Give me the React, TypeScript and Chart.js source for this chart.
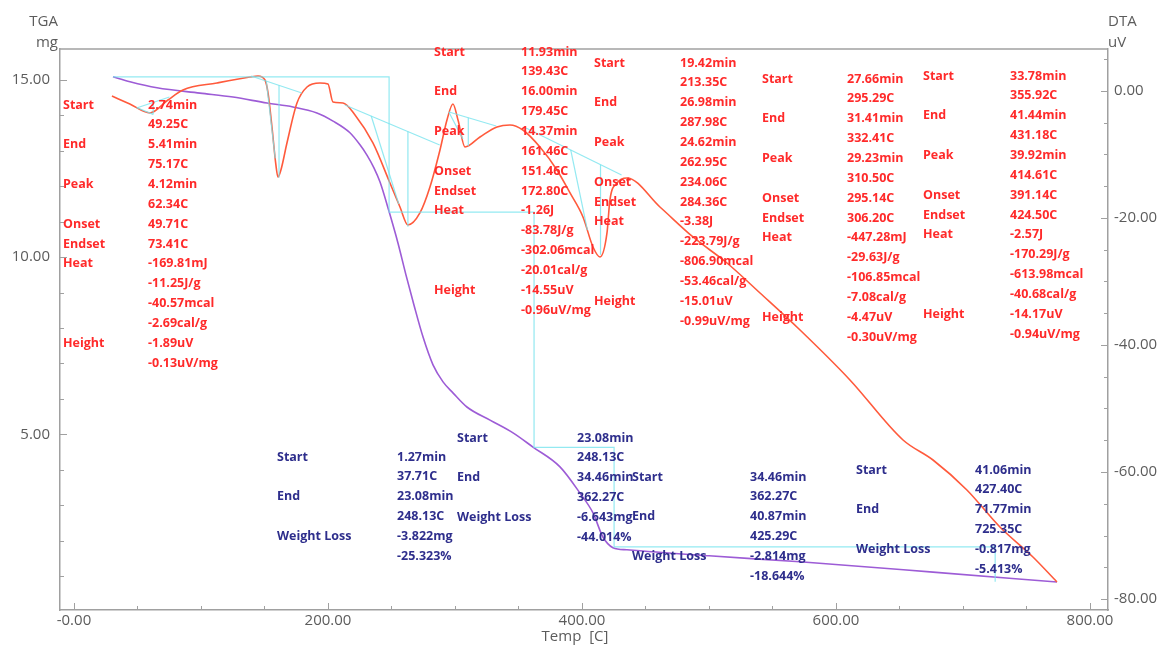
import React, { useEffect, useRef } from "react";
import { Chart, registerables } from "chart.js";

Chart.register(...registerables);

// ---------- data ----------
const TGA_TEMP = [30.7, 44.1, 65.4, 99.2, 125.2, 152, 172.4, 191.3, 204, 217.3, 225.2, 230.7, 236.2, 241, 248, 255.1, 261.4, 267.7, 274.8, 282.7, 290.6, 298.4, 309.4, 327.6, 345.7, 361.4, 382.7, 398.4, 408.7, 416.5, 424.4, 435.4, 500, 571.7, 676.4, 774];
const TGA_MG = [15.09, 14.95, 14.78, 14.63, 14.52, 14.35, 14.24, 14.07, 13.84, 13.51, 13.17, 12.88, 12.52, 12.12, 11.3, 10.4, 9.5, 8.65, 7.75, 6.96, 6.48, 6.17, 5.77, 5.4, 5.04, 4.64, 4.08, 3.34, 2.78, 2.1, 1.8, 1.74, 1.57, 1.4, 1.11, 0.83];

const DTA_TEMP = [29.9, 44, 59.8, 74, 85.8, 112.6, 138.6, 144.9, 150.4, 152.8, 155.9, 159, 160.6, 163, 167.7, 175.6, 183.5, 193.7, 200, 203.9, 211.8, 221.3, 235.4, 248.8, 256.7, 263, 272.4, 280.3, 288.2, 293.7, 298.4, 302.4, 307.9, 319.7, 333.1, 343.3, 353.5, 366.9, 380.3, 390.6, 400.8, 408.7, 414.2, 419.7, 422, 427.6, 435.4, 461.4, 487.4, 514.2, 540.2, 571.7, 611, 652.8, 676.4, 703.1, 729.1, 755.1, 774];
const DTA_UV = [-0.79, -2.05, -3.46, -1.42, 0.16, 1.26, 2.2, 2.36, 1.73, -0.31, -5.67, -11.65, -13.54, -12.4, -8.19, -1.89, 0.63, 1.26, 1.1, -1.73, -1.89, -3.78, -8.19, -14.49, -18.27, -21.1, -19.21, -15.12, -9.29, -4.57, -2.05, -4.57, -8.82, -7.24, -5.67, -5.35, -6.14, -8.82, -12.44, -16.06, -19.84, -24.57, -26.14, -22.36, -17.17, -14.49, -13.7, -18.27, -22.99, -27.09, -31.81, -37.64, -45.5, -54.96, -58.11, -62.83, -68.66, -73.39, -77.32];

// TGA step analysis (stair construction)
const TGA_STEP_T = [30.7, 248.13, 362.27, 425.29, 725.35];
const TGA_STEP_MG = [15.09, 11.27, 4.63, 1.82, 0.84];

// DTA peak analysis
const PEAK_START_T = [49.25, 139.43, 213.35, 295.29, 355.92];
const PEAK_END_T = [75.17, 179.45, 287.98, 332.41, 431.18];
const PEAK_TOP_T = [62.34, 161.46, 262.95, 310.5, 414.61];
const PEAK_ONSET_T = [49.71, 151.46, 234.06, 295.14, 391.14];
const PEAK_HEIGHT_UV = [-1.89, -14.55, -15.01, -4.47, -14.17];
const BASE_START_UV = [-2.68, 2.36, -2.2, -3.31, -5.83];
const BASE_END_UV = [-0.94, -0.31, -8.5, -5.51, -13.23];

// axes ticks
const X_TICKS = [0, 200, 400, 600, 800];
const X_TICK_LABELS = ["-0.00", "200.00", "400.00", "600.00", "800.00"];
const TGA_TICKS = [5, 10, 15];
const TGA_TICK_LABELS = ["5.00", "10.00", "15.00"];
const DTA_TICKS = [0, -20, -40, -60, -80];
const DTA_TICK_LABELS = ["0.00", "-20.00", "-40.00", "-60.00", "-80.00"];

// annotation texts
const DTA_NOTES: [string, string[]][][] = [
  [["Start", ["2.74min", "49.25C"]], ["End", ["5.41min", "75.17C"]], ["Peak", ["4.12min", "62.34C"]], ["Onset", ["49.71C"]], ["Endset", ["73.41C"]], ["Heat", ["-169.81mJ", "-11.25J/g", "-40.57mcal", "-2.69cal/g"]], ["Height", ["-1.89uV", "-0.13uV/mg"]]],
  [["Start", ["11.93min", "139.43C"]], ["End", ["16.00min", "179.45C"]], ["Peak", ["14.37min", "161.46C"]], ["Onset", ["151.46C"]], ["Endset", ["172.80C"]], ["Heat", ["-1.26J", "-83.78J/g", "-302.06mcal", "-20.01cal/g"]], ["Height", ["-14.55uV", "-0.96uV/mg"]]],
  [["Start", ["19.42min", "213.35C"]], ["End", ["26.98min", "287.98C"]], ["Peak", ["24.62min", "262.95C"]], ["Onset", ["234.06C"]], ["Endset", ["284.36C"]], ["Heat", ["-3.38J", "-223.79J/g", "-806.90mcal", "-53.46cal/g"]], ["Height", ["-15.01uV", "-0.99uV/mg"]]],
  [["Start", ["27.66min", "295.29C"]], ["End", ["31.41min", "332.41C"]], ["Peak", ["29.23min", "310.50C"]], ["Onset", ["295.14C"]], ["Endset", ["306.20C"]], ["Heat", ["-447.28mJ", "-29.63J/g", "-106.85mcal", "-7.08cal/g"]], ["Height", ["-4.47uV", "-0.30uV/mg"]]],
  [["Start", ["33.78min", "355.92C"]], ["End", ["41.44min", "431.18C"]], ["Peak", ["39.92min", "414.61C"]], ["Onset", ["391.14C"]], ["Endset", ["424.50C"]], ["Heat", ["-2.57J", "-170.29J/g", "-613.98mcal", "-40.68cal/g"]], ["Height", ["-14.17uV", "-0.94uV/mg"]]],
];
const TGA_NOTES: [string, string[]][][] = [
  [["Start", ["1.27min", "37.71C"]], ["End", ["23.08min", "248.13C"]], ["Weight Loss", ["-3.822mg", "-25.323%"]]],
  [["Start", ["23.08min", "248.13C"]], ["End", ["34.46min", "362.27C"]], ["Weight Loss", ["-6.643mg", "-44.014%"]]],
  [["Start", ["34.46min", "362.27C"]], ["End", ["40.87min", "425.29C"]], ["Weight Loss", ["-2.814mg", "-18.644%"]]],
  [["Start", ["41.06min", "427.40C"]], ["End", ["71.77min", "725.35C"]], ["Weight Loss", ["-0.817mg", "-5.413%"]]],
];

// ---------- layout / style ----------
const W = 1167;
const H = 646;
const DTA_NOTE_POS = [[63, 148, 105], [434, 521, 52], [594, 680, 63], [762, 847, 79], [923, 1010, 76]];
const TGA_NOTE_POS = [[277, 397, 457], [457, 577, 438], [632, 750, 477], [856, 975, 470]];
const ROW = 19.85;
const FONT = '"Open Sans", "Noto Sans", sans-serif';
const AXIS_COLOR = "#a0a0a0";
const LABEL_COLOR = "#5c5c5c";
const DTA_COLOR = "#ff5a3c";
const TGA_COLOR = "#9d5cd6";
const CYAN = "rgba(120,228,238,0.8)";
const RED_TEXT = "#ff2a2a";
const NAVY_TEXT = "#2e2e8c";

const baseAt = (i: number, t: number) =>
  BASE_START_UV[i] + ((t - PEAK_START_T[i]) / (PEAK_END_T[i] - PEAK_START_T[i])) * (BASE_END_UV[i] - BASE_START_UV[i]);

const dtaAt = (t: number) => {
  for (let k = 1; k < DTA_TEMP.length; k++) {
    if (t <= DTA_TEMP[k]) {
      const f = (t - DTA_TEMP[k - 1]) / (DTA_TEMP[k] - DTA_TEMP[k - 1]);
      return DTA_UV[k - 1] + f * (DTA_UV[k] - DTA_UV[k - 1]);
    }
  }
  return DTA_UV[DTA_UV.length - 1];
};

const sidePoint = (i: number, from: number) => {
  const to = PEAK_TOP_T[i];
  const h = PEAK_HEIGHT_UV[i];
  for (let s = 0; s <= 300; s++) {
    const t = from + ((to - from) * s) / 300;
    if (dtaAt(t) - baseAt(i, t) <= 0.8 * h) return { x: t, y: dtaAt(t) };
  }
  return { x: to, y: baseAt(i, to) + h };
};

const decor = {
  id: "decor",
  afterDraw(chart: any) {
    const { ctx, chartArea: a, scales } = chart;
    const x = scales.x, yL = scales.yL, yR = scales.yR;
    ctx.save();
    ctx.strokeStyle = AXIS_COLOR;
    ctx.lineWidth = 1.5;
    const seg = (x1: number, y1: number, x2: number, y2: number) => {
      ctx.beginPath();
      ctx.moveTo(x1, y1);
      ctx.lineTo(x2, y2);
      ctx.stroke();
    };
    seg(a.left, a.top, a.right, a.top);
    ctx.lineWidth = 1;
    for (let v = 1; v <= 15; v++) {
      const y = Math.round(yL.getPixelForValue(v)) + 0.5;
      if (y < a.top || y > a.bottom) continue;
      seg(a.left, y, a.left + (v % 5 === 0 ? 7 : 4), y);
    }
    for (let v = -80; v <= 5; v += 5) {
      const y = Math.round(yR.getPixelForValue(v)) + 0.5;
      if (y < a.top || y > a.bottom) continue;
      seg(a.right, y, a.right - (v % 20 === 0 ? 7 : 4), y);
    }
    for (let v = 0; v <= 800; v += 50) {
      const xx = Math.round(x.getPixelForValue(v)) + 0.5;
      seg(xx, a.bottom, xx, a.bottom - (v % 200 === 0 ? 7 : 4));
    }
    // axis titles
    ctx.fillStyle = LABEL_COLOR;
    ctx.font = `15px ${FONT}`;
    ctx.textBaseline = "middle";
    ctx.textAlign = "right";
    ctx.fillText("TGA", 58, 22);
    ctx.fillText("mg", 58, 43);
    ctx.textAlign = "left";
    ctx.fillText("DTA", 1108, 22);
    ctx.fillText("uV", 1108, 43);
    ctx.textAlign = "center";
    ctx.fillText("Temp  [C]", 575, 637);
    // annotations
    const drawNotes = (notes: [string, string[]][][], pos: number[][], color: string) => {
      ctx.fillStyle = color;
      ctx.font = `bold 12.5px ${FONT}`;
      ctx.textAlign = "left";
      ctx.textBaseline = "middle";
      notes.forEach((block, b) => {
        const [lx, vx, top] = pos[b];
        let row = 0;
        block.forEach(([label, vals]) => {
          ctx.fillText(label, lx, top + row * ROW);
          vals.forEach((v, k) => ctx.fillText(v, vx, top + (row + k) * ROW));
          row += vals.length;
        });
      });
    };
    drawNotes(DTA_NOTES, DTA_NOTE_POS, RED_TEXT);
    drawNotes(TGA_NOTES, TGA_NOTE_POS, NAVY_TEXT);
    ctx.restore();
  },
};

export default function App() {
  const ref = useRef<HTMLCanvasElement>(null);
  useEffect(() => {
    const canvas = ref.current;
    if (!canvas) return;
    const lineDs = (data: any[], axis: string, color: string, width: number, order: number, extra: any = {}) => ({
      type: "line",
      data,
      yAxisID: axis,
      borderColor: color,
      backgroundColor: color,
      borderWidth: width,
      pointRadius: 0,
      pointHoverRadius: 0,
      fill: false,
      order,
      ...extra,
    });
    const datasets: any[] = [];
    datasets.push(lineDs(DTA_TEMP.map((t, i) => ({ x: t, y: DTA_UV[i] })), "yR", DTA_COLOR, 1.6, 2, { cubicInterpolationMode: "monotone" }));
    datasets.push(lineDs(TGA_TEMP.map((t, i) => ({ x: t, y: TGA_MG[i] })), "yL", TGA_COLOR, 1.6, 3, { cubicInterpolationMode: "monotone" }));
    datasets.push(lineDs(TGA_STEP_T.map((t, i) => ({ x: t, y: TGA_STEP_MG[i] })), "yL", CYAN, 1.2, 1, { stepped: true }));
    PEAK_START_T.forEach((s, i) => {
      const e = PEAK_END_T[i];
      const p = PEAK_TOP_T[i];
      datasets.push(lineDs([{ x: s, y: BASE_START_UV[i] }, { x: e, y: BASE_END_UV[i] }], "yR", CYAN, 1.2, 1));
      datasets.push(lineDs([{ x: p, y: baseAt(i, p) }, { x: p, y: baseAt(i, p) + PEAK_HEIGHT_UV[i] }], "yR", CYAN, 1.2, 1));
      datasets.push(lineDs([{ x: PEAK_ONSET_T[i], y: baseAt(i, PEAK_ONSET_T[i]) }, sidePoint(i, PEAK_ONSET_T[i])], "yR", CYAN, 1.2, 1));
    });

    const tickFont = { family: FONT, size: 15 };
    const chart = new Chart(canvas, {
      type: "line",
      data: { datasets },
      plugins: [decor],
      options: {
        animation: false,
        responsive: false,
        devicePixelRatio: 1,
        events: [],
        layout: { padding: { top: 49, left: 0, right: 0, bottom: 0 } },
        plugins: { legend: { display: false }, tooltip: { enabled: false } },
        scales: {
          x: {
            type: "linear",
            position: "bottom",
            min: -11,
            max: 814.2,
            afterFit: (s: any) => { s.height = 36; },
            afterBuildTicks: (s: any) => { s.ticks = X_TICKS.map((v) => ({ value: v })); },
            ticks: {
              autoSkip: false,
              maxRotation: 0,
              padding: 2,
              color: LABEL_COLOR,
              font: tickFont,
              callback: (v: any) => X_TICK_LABELS[X_TICKS.indexOf(Number(v))],
            },
            grid: { display: false, drawTicks: false },
            border: { display: true, color: AXIS_COLOR, width: 1.5 },
          },
          yL: {
            type: "linear",
            position: "left",
            min: 0.04,
            max: 15.875,
            afterFit: (s: any) => { s.width = 60; },
            afterBuildTicks: (s: any) => { s.ticks = TGA_TICKS.map((v) => ({ value: v })); },
            ticks: {
              padding: 10,
              color: LABEL_COLOR,
              font: tickFont,
              callback: (v: any) => TGA_TICK_LABELS[TGA_TICKS.indexOf(Number(v))],
            },
            grid: { display: false, drawTicks: false },
            border: { display: true, color: AXIS_COLOR, width: 1.5 },
          },
          yR: {
            type: "linear",
            position: "right",
            min: -81.73,
            max: 6.61,
            afterFit: (s: any) => { s.width = W - 1108; },
            afterBuildTicks: (s: any) => { s.ticks = DTA_TICKS.map((v) => ({ value: v })); },
            ticks: {
              padding: 6,
              color: LABEL_COLOR,
              font: tickFont,
              callback: (v: any) => DTA_TICK_LABELS[DTA_TICKS.indexOf(Number(v))],
            },
            grid: { display: false, drawTicks: false },
            border: { display: true, color: AXIS_COLOR, width: 1.5 },
          },
        },
      } as any,
    });
    return () => chart.destroy();
  }, []);

  return (
    <div style={{ position: "absolute", left: 0, top: 0, width: W, height: H, background: "#fff" }}>
      <canvas ref={ref} width={W} height={H} style={{ display: "block", width: W, height: H }} />
    </div>
  );
}
